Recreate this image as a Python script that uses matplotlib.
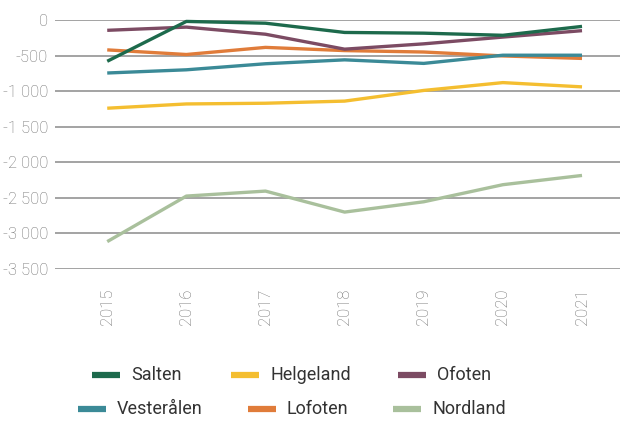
import matplotlib
matplotlib.use("Agg")
import matplotlib.pyplot as plt
from matplotlib.ticker import FuncFormatter
from matplotlib.lines import Line2D

years = ["2015", "2016", "2017", "2018", "2019", "2020", "2021"]

salten = [-580, -20, -45, -175, -185, -215, -90]
helgeland = [-1240, -1180, -1170, -1140, -990, -880, -940]
ofoten = [-145, -100, -200, -410, -335, -240, -150]
vesteralen = [-745, -700, -615, -560, -610, -495, -495]
lofoten = [-420, -485, -385, -430, -450, -505, -540]
nordland = [-3115, -2475, -2405, -2700, -2555, -2315, -2185]

names = ["Salten", "Helgeland", "Ofoten", "Vesterålen", "Lofoten", "Nordland"]
series = [salten, helgeland, ofoten, vesteralen, lofoten, nordland]
colors = ["#1d6a4c", "#f4be30", "#7c4b63", "#3b8a97", "#e07c3a", "#a9c09c"]

plt.rcParams["font.family"] = ["Roboto", "DejaVu Sans"]

W, H = 620, 421
fig = plt.figure(figsize=(W / 100, H / 100), dpi=100)
# axes box in pixels: left 55, right 620, top 20, bottom 269
ax = fig.add_axes([55 / W, 1 - 269 / H, 565 / W, 249 / H])

x = list(range(len(years)))
# Nordland first, Salten last on top
for i in [5, 4, 3, 2, 1, 0]:
    ax.plot(x, series[i], color=colors[i], linewidth=2.4, clip_on=False,
            solid_capstyle="butt", zorder=3)

ax.set_ylim(-3500, 0)
ax.set_xlim(-0.66, 6.48)
ax.set_yticks(range(-3500, 1, 500))
ax.yaxis.set_major_formatter(FuncFormatter(lambda v, p: f"{int(v):,}".replace(",", " ")))
ax.grid(axis="y", color="#8a8a8a", linewidth=1.1)
ax.set_axisbelow(True)
for s in ax.spines.values():
    s.set_visible(False)
ax.tick_params(axis="y", length=0, pad=5, labelsize=12, labelcolor="#6e6e6e")
ax.set_xticks(x)
ax.set_xticklabels(years, rotation=90)
ax.tick_params(axis="x", length=0, pad=14, labelsize=12, labelcolor="#6e6e6e")
for lab in ax.get_xticklabels() + ax.get_yticklabels():
    lab.set_fontweight("light")

# legend, laid out like the original in two centred rows
legend_rows = [
    ([0, 1, 2], [92, 231, 398], 375),
    ([3, 4, 5], [78, 248, 393], 409),
]
for idx, xs, ypix in legend_rows:
    for i, xp in zip(idx, xs):
        yf = 1 - ypix / H
        fig.add_artist(Line2D([xp / W, (xp + 28) / W], [yf, yf], color=colors[i],
                              linewidth=4.5, solid_capstyle="butt",
                              transform=fig.transFigure))
        fig.text((xp + 39) / W, yf, names[i], fontsize=13, color="#333333",
                 va="center", ha="left")

fig.savefig("out.png", dpi=100)
